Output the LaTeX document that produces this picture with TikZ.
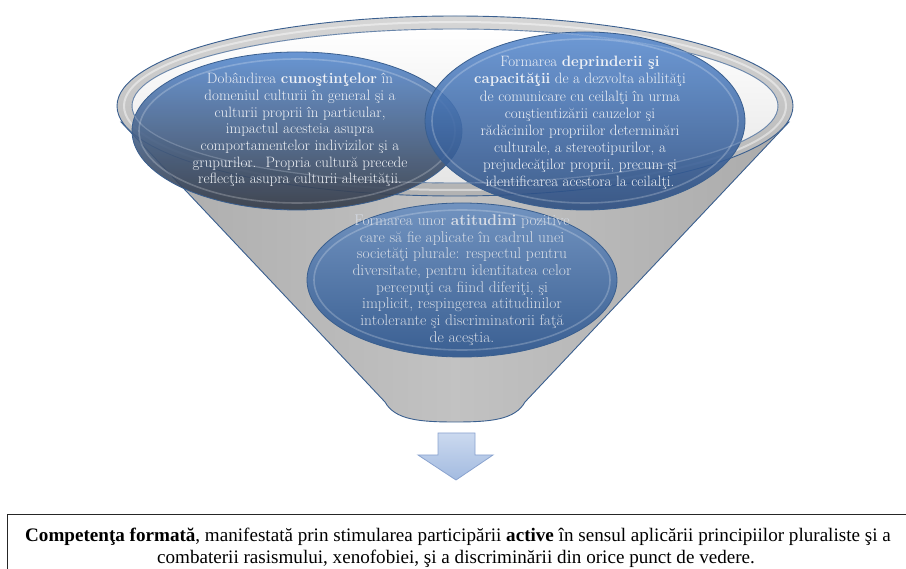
\documentclass[tikz,border=0pt]{standalone}
\usepackage{fontspec}
\newfontfamily\tnr{Liberation Serif}
\usetikzlibrary{shapes.geometric}
\definecolor{rimline}{HTML}{3A5F8F}
\definecolor{blueA}{HTML}{5A8CD0}
\definecolor{blueB}{HTML}{3566AA}
\definecolor{blueC}{HTML}{2A4C80}
\definecolor{slate}{HTML}{343A46}
\definecolor{blueBt}{HTML}{4E78B0}
\definecolor{blueBb}{HTML}{3A5F92}
\definecolor{arrowA}{HTML}{CBD9EF}
\definecolor{arrowB}{HTML}{A3BBE0}
\definecolor{arrowL}{HTML}{8AA3CF}
\definecolor{etext}{HTML}{EEF1F6}
\definecolor{btext}{HTML}{D5DBE5}
\tikzset{
  funnelbody/.style={draw=rimline, line width=0.9pt, left color=gray!66, right color=gray!66, middle color=gray!48},
  rimband/.style={draw=rimline, line width=0.9pt, top color=gray!32, bottom color=gray!60},
  interior/.style={top color=white, bottom color=gray!20},
  glassL/.style={ellipse, draw=rimline, line width=0.8pt, fill opacity=0.9, top color=blueA, middle color=blueB, bottom color=slate, inner sep=0pt},
  glassR/.style={ellipse, draw=rimline, line width=0.8pt, fill opacity=0.88, top color=blueA, middle color=blueB, bottom color=blueC, inner sep=0pt},
  glassB/.style={ellipse, draw=rimline, line width=0.8pt, top color=blueBt!80!white, middle color=blueBt, bottom color=blueBb, inner sep=0pt},
  bevel/.style={draw=white, opacity=0.22, line width=1.6pt},
  etxt/.style={align=center, text=etext, font=\fontsize{15}{16.7}\selectfont, inner sep=0pt},
  btxt/.style={align=center, text=btext, font=\fontsize{15.5}{16.7}\selectfont, inner sep=0pt},
  downarrow/.style={draw=arrowL, line width=0.8pt, top color=arrowA, bottom color=arrowB},
  boxline/.style={draw=black!85, line width=1pt},
  ctxt/.style={anchor=base, inner sep=0pt, font=\tnr\fontsize{19.1}{22}\selectfont}
}
\begin{document}
\begin{tikzpicture}[x=1pt,y=-1pt]
\useasboundingbox (0,0) rectangle (906,569);
\clip (0,0) rectangle (906,569);
% funnel body
\path[funnelbody] (121,122) -- (385,402) .. controls (395,420) and (420,422) .. (455,422)
   .. controls (490,422) and (515,420) .. (525,402) -- (789,122) -- cycle;
\draw[white, opacity=0.35, line width=2pt] (132,140) -- (388,410);
\draw[white, opacity=0.35, line width=2pt] (778,140) -- (522,410);
% interior and rim
\path[interior] (455,106) ellipse [x radius=323, y radius=77];
\path[rimband, even odd rule] (455,106) ellipse [x radius=338, y radius=90]
   (455,106) ellipse [x radius=323, y radius=77];
\draw[white, opacity=0.45, line width=2pt] (455,106) ellipse [x radius=331, y radius=84];
% ellipses
\node[glassL, minimum width=330pt, minimum height=158pt] (L) at (297,131) {};
\draw[bevel] (L.center) ellipse [x radius=158, y radius=72];
\node[glassR, minimum width=320pt, minimum height=178pt] (R) at (585,121) {};
\draw[bevel] (R.center) ellipse [x radius=153, y radius=82];
\draw[white, opacity=0.25, line width=1.2pt] (455,106) ellipse [x radius=323, y radius=77];
\node[glassB, minimum width=310pt, minimum height=154pt] (B) at (462,280) {};
\draw[bevel] (B.center) ellipse [x radius=148, y radius=70];
% texts
\node[etxt] (Lt) at (300,130) {Dobândirea \textbf{cunoştinţelor} în\\
domeniul culturii în general şi a\\
culturii proprii în particular,\\
impactul acesteia asupra\\
comportamentelor indivizilor şi a\\
grupurilor.\ \ Propria cultură precede\\
reflecţia asupra culturii alterităţii.};
\node[etxt, font=\fontsize{15}{17.1}\selectfont] (Rt) at (580,123) {Formarea \textbf{deprinderii şi}\\
\textbf{capacităţii} de a dezvolta abilităţi\\
de comunicare cu ceilalţi în urma\\
conştientizării cauzelor şi\\
rădăcinilor propriilor determinări\\
culturale, a stereotipurilor, a\\
prejudecăţilor proprii, precum şi\\
identificarea acestora la ceilalţi.};
\node[btxt] (Bt) at (462,280) {Formarea unor \textbf{atitudini} pozitive\\
care să fie aplicate în cadrul unei\\
societăţi plurale: respectul pentru\\
diversitate, pentru identitatea celor\\
percepuţi ca fiind diferiţi, şi\\
implicit, respingerea atitudinilor\\
intolerante şi discriminatorii faţă\\
de aceştia.};
% arrow
\path[downarrow] (438,433) -- (475,433) -- (475,455) -- (493,455) -- (456,480) -- (418,455) -- (438,455) -- cycle;
% bottom box
\draw[boxline] (7,515) rectangle (930,600);
\node[ctxt] (c1) at (458,541) {\textbf{Competenţa formată}, manifestată prin stimularea participării \textbf{active} în sensul aplicării principiilor pluraliste şi a};
\node[ctxt] (c2) at (456,563) {combaterii rasismului, xenofobiei, şi a discriminării din orice punct de vedere.};
\end{tikzpicture}
\end{document}
